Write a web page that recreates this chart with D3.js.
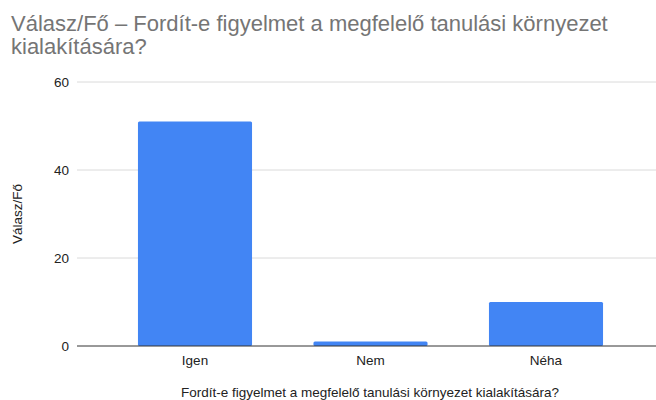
<!DOCTYPE html>
<html>
<head>
<meta charset="utf-8">
<style>
  body { margin: 0; background: #fff; }
  text { font-family: "Liberation Sans", Arial, sans-serif; }
</style>
</head>
<body>
  <script src="https://d3js.org/d3.v7.min.js" charset="utf-8"></script>
  <script>
      var categories = ["Igen", "Nem", "Néha"];
      var values = [51, 1, 10];
      var yTicks = [0, 20, 40, 60];
      var titleLines = ["Válasz/Fő – Fordít-e figyelmet a megfelelő tanulási környezet", "kialakítására?"];
      var xTitle = "Fordít-e figyelmet a megfelelő tanulási környezet kialakítására?";
      var yTitle = "Válasz/Fő";

      var width = 656, height = 400;
      var svg = d3.select("body").append("svg").attr("width", width).attr("height", height);

      var y = d3.scaleLinear().domain([0, 60]).range([346, 82]);
      var x = d3.scaleBand().domain(categories).range([107.25, 633.75])
                .paddingInner(0.35).paddingOuter(0.175);

      // title
      svg.append("g").selectAll("text")
         .data(titleLines)
         .enter().append("text")
         .attr("x", 11)
         .attr("y", function (d, i) { return 31 + i * 23; })
         .attr("font-size", 22)
         .attr("fill", "#757575")
         .text(function (d) { return d; });

      // gridlines
      svg.append("g").selectAll("line")
         .data(yTicks.filter(function (d) { return d > 0; }))
         .enter().append("line")
         .attr("x1", 77).attr("x2", width)
         .attr("y1", function (d) { return y(d); })
         .attr("y2", function (d) { return y(d); })
         .attr("stroke", "#dadada").attr("stroke-width", 1);

      // y tick labels
      svg.append("g").selectAll("text")
         .data(yTicks)
         .enter().append("text")
         .attr("x", 69)
         .attr("y", function (d) { return y(d) + 5; })
         .attr("text-anchor", "end")
         .attr("font-size", 13.5)
         .attr("fill", "#222")
         .text(function (d) { return d; });

      // bars
      svg.append("g").selectAll("rect")
         .data(values)
         .enter().append("rect")
         .attr("x", function (d, i) { return x(categories[i]); })
         .attr("y", function (d) { return y(d); })
         .attr("width", x.bandwidth())
         .attr("height", function (d) { return y(0) - y(d); })
         .attr("rx", 1.5)
         .attr("fill", "#4285f4");

      // baseline
      svg.append("line")
         .attr("x1", 77).attr("x2", width)
         .attr("y1", y(0)).attr("y2", y(0))
         .attr("stroke", "#333").attr("stroke-width", 1);

      // x labels
      svg.append("g").selectAll("text")
         .data(categories)
         .enter().append("text")
         .attr("x", function (d) { return x(d) + x.bandwidth() / 2; })
         .attr("y", 365)
         .attr("text-anchor", "middle")
         .attr("font-size", 13.5)
         .attr("fill", "#222")
         .text(function (d) { return d; });

      // axis titles
      svg.append("text")
         .attr("x", 370).attr("y", 397)
         .attr("text-anchor", "middle")
         .attr("font-size", 13.5)
         .attr("fill", "#222")
         .text(xTitle);

      svg.append("text")
         .attr("transform", "translate(22,214) rotate(-90)")
         .attr("text-anchor", "middle")
         .attr("font-size", 13.5)
         .attr("fill", "#222")
         .text(yTitle);
  </script>
</body>
</html>
